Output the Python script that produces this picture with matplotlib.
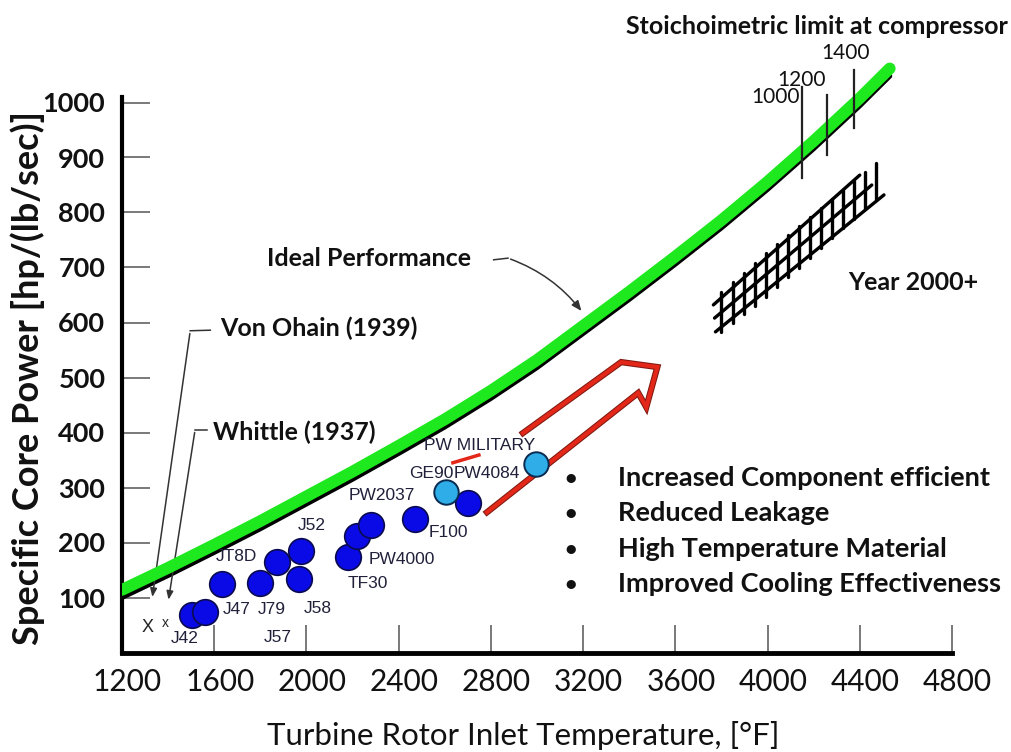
import numpy as np
import matplotlib.pyplot as plt
from matplotlib import transforms
import matplotlib.patheffects as pe

plt.rcParams['font.family'] = ['Lato', 'DejaVu Sans']

# -------------------------------
# Data
# -------------------------------

# Ideal performance curve (turbine inlet temperature F, specific core power)
curve_temp = [1200, 1400, 1600, 1800, 2000, 2200, 2400, 2600, 2800, 3000,
              3200, 3400, 3600, 3800, 4000, 4200, 4400, 4530]
curve_power = [100, 140, 182, 225, 270, 315, 362, 410, 462, 518,
               580, 642, 706, 772, 842, 916, 994, 1048]

# engines (dark blue) and newer engines (light blue)
engine_temp = [1503, 1561, 1633, 1800, 1873, 1977, 1967, 2180, 2220, 2281, 2470, 2699]
engine_power = [69, 73, 124, 127, 164, 185, 133, 173, 211, 231, 243, 271]
new_engine_temp = [2604, 2996]
new_engine_power = [291, 342]

engine_labels = ['J42', 'J47', 'J79', 'J58', 'J57', 'JT8D', 'J52', 'PW2037',
                 'PW4000', 'TF30', 'F100', 'GE90', 'PW4084', 'PW MILITARY']
label_temp = [1474, 1699, 1848, 2048, 1874, 1696, 2022, 2326,
              2413, 2265, 2617, 2543, 2783, 2752]
label_power = [26, 79, 79, 80, 28, 174, 230, 285, 170, 125, 219, 326, 326, 377]

# early engines marked with x
early_temp = [1313, 1387]
early_power = [45, 53]
early_marks = ['X', 'x']

# stoichiometric limit marks on the curve
stoich_labels = ['1000', '1200', '1400']
stoich_temp = [4151, 4257, 4374]
stoich_low = [863, 905, 954]
stoich_high = [1028, 1014, 1059]
stoich_label_temp = [4035, 4148, 4339]
stoich_label_power = [1010, 1041, 1090]

# "Year 2000+" cross-hatched band
rail_temp = [[3765, 4400], [3770, 4452], [3774, 4505]]
rail_power = [[632, 868], [608, 850], [583, 832]]
tie_temp = [3800, 3848, 3896, 3944, 3992, 4040, 4088, 4136, 4184, 4232, 4280, 4328, 4376, 4424, 4470]

# hollow red trend arrow
arrow_temp = [2939, 3365, 3522, 3474, 3439, 2783]
arrow_power = [399, 528, 519, 446, 472, 255]

bullets = ['Increased Component efficient', 'Reduced Leakage',
           'High Temperature Material', 'Improved Cooling Effectiveness']
bullet_power = [317, 253, 188, 124]

xticks = [1200, 1600, 2000, 2400, 2800, 3200, 3600, 4000, 4400, 4800]
yticks = [100, 200, 300, 400, 500, 600, 700, 800, 900, 1000]

# -------------------------------
# Figure
# -------------------------------
fig = plt.figure(figsize=(10.11, 7.52), dpi=100)
ax = fig.add_axes([122 / 1011, 99.5 / 752, 830 / 1011, 610.5 / 752])
ax.set_xlim(1200, 4800)
ax.set_ylim(0, 1110)

for s in ['top', 'right']:
    ax.spines[s].set_visible(False)
ax.spines['left'].set_linewidth(3)
ax.spines['left'].set_bounds(0, 1010)
ax.spines['bottom'].set_linewidth(3.5)

ax.set_xticks(xticks)
ax.set_yticks(yticks)
ax.tick_params(axis='x', direction='in', length=20, width=1.1, color='#555555',
               pad=11, labelsize=21.5, labelcolor='#111111')
ax.tick_params(axis='y', direction='in', length=20, width=1.1, color='#555555',
               pad=12, labelsize=19.5, labelcolor='#111111')
for lab in ax.get_yticklabels():
    lab.set_fontweight('bold')
# x labels sit a little right of their ticks in the original
nudge = transforms.ScaledTranslation(4 / 72, 0, fig.dpi_scale_trans)
for lab in ax.get_xticklabels():
    lab.set_transform(lab.get_transform() + nudge)

fig.text(523 / 1011, 1 - 735 / 752, 'Turbine Rotor Inlet Temperature, [°F]',
         ha='center', va='center', fontsize=22.5, color='#111111')
fig.text(28 / 1011, 1 - 378 / 752, 'Specific Core Power [hp/(lb/sec)]',
         ha='center', va='center', rotation=90, fontsize=26,
         fontweight='bold', color='#111111')

# ideal performance curve: black line with thick green on top
ax.plot(curve_temp, curve_power, color='black', lw=3.6, solid_capstyle='round', zorder=3)
green_shift = ax.transData + transforms.ScaledTranslation(0, 5.5 / 72, fig.dpi_scale_trans)
ax.plot(curve_temp, curve_power, color='#1EE81E', lw=8.5, solid_capstyle='round',
        transform=green_shift, zorder=4)

# stoichiometric marks
for t, lo, hi in zip(stoich_temp, stoich_low, stoich_high):
    ax.plot([t, t], [lo, hi], color='#222222', lw=1.6, zorder=5)
for lab, t, p in zip(stoich_labels, stoich_label_temp, stoich_label_power):
    ax.text(t, p, lab, ha='center', va='center', fontsize=15, color='#111111')
fig.text(1008 / 1011, 1 - 27 / 752, 'Stoichoimetric limit at compressor',
         ha='right', va='center', fontsize=18, fontweight='bold', color='#111111')

# Year 2000+ hatch
for rt, rp in zip(rail_temp, rail_power):
    ax.plot(rt, rp, color='black', lw=2.4, solid_capstyle='round', zorder=3)
top_rail = np.polyfit(rail_temp[0], rail_power[0], 1)
bot_rail = np.polyfit(rail_temp[2], rail_power[2], 1)
for t in tie_temp:
    hi = min(np.polyval(top_rail, t) + 10, np.polyval(bot_rail, t) + 70)
    lo = max(np.polyval(bot_rail, t) - 10, np.polyval(top_rail, t) - 70)
    ax.plot([t, t], [lo, hi], color='black', lw=2.4, solid_capstyle='round', zorder=3)
ax.text(4631, 672, 'Year 2000+', ha='center', va='center', fontsize=18,
        fontweight='bold', color='#111111')

# engines
ax.scatter(engine_temp, engine_power, s=340, color='#0A0AE6', edgecolor='#0A0A50',
           linewidth=1.2, zorder=6)
ax.scatter(new_engine_temp, new_engine_power, s=310, color='#2EADE8', edgecolor='#0A2A50',
           linewidth=1.4, zorder=6)
for lab, t, p in zip(engine_labels, label_temp, label_power):
    ax.text(t, p, lab, ha='center', va='center', fontsize=12.5,
            family=['Liberation Sans', 'DejaVu Sans'], color='#20203a', zorder=7)
for m, t, p, fs in zip(early_marks, early_temp, early_power, [13, 10]):
    ax.text(t, p, m, ha='center', va='center', fontsize=fs,
            family=['Liberation Sans', 'DejaVu Sans'], color='#222222')

# red trend arrow
ax.plot(arrow_temp, arrow_power, color='#E3281A', lw=3, solid_joinstyle='miter', zorder=5,
        path_effects=[pe.Stroke(linewidth=4.5, foreground='#801A10'), pe.Normal()])
ax.plot([2635, 2748], [345, 359], color='#E3281A', lw=2.5, zorder=5)

# annotations with leader lines
lead = dict(color='#333333', lw=1.1)
ax.text(1830, 717, 'Ideal Performance', ha='left', va='center', fontsize=18,
        fontweight='bold', color='#111111')
ax.plot([2812, 2874], [714, 717], **lead)
ax.annotate('', xy=(3200, 617), xytext=(2874, 717),
            arrowprops=dict(arrowstyle='-|>,head_length=0.6,head_width=0.25',
                            connectionstyle='arc3,rad=-0.15', **lead))

ax.text(1626, 590, 'Von Ohain (1939)', ha='left', va='center', fontsize=18,
        fontweight='bold', color='#111111')
ax.plot([1583, 1496], [586, 585], **lead)
ax.annotate('', xy=(1330, 96), xytext=(1496, 585),
            arrowprops=dict(arrowstyle='-|>,head_length=0.5,head_width=0.2', **lead))

ax.text(1596, 401, 'Whittle (1937)', ha='left', va='center', fontsize=18,
        fontweight='bold', color='#111111')
ax.plot([1570, 1517], [405, 405], **lead)
ax.annotate('', xy=(1400, 91), xytext=(1517, 405),
            arrowprops=dict(arrowstyle='-|>,head_length=0.5,head_width=0.2', **lead))

# bullet list
for txt, p in zip(bullets, bullet_power):
    ax.text(3148, p, '•', ha='center', va='center', fontsize=18, color='#111111')
    ax.text(3352, p, txt, ha='left', va='center', fontsize=19.5,
            fontweight='bold', color='#111111')

fig.savefig('out.png', dpi=100)
